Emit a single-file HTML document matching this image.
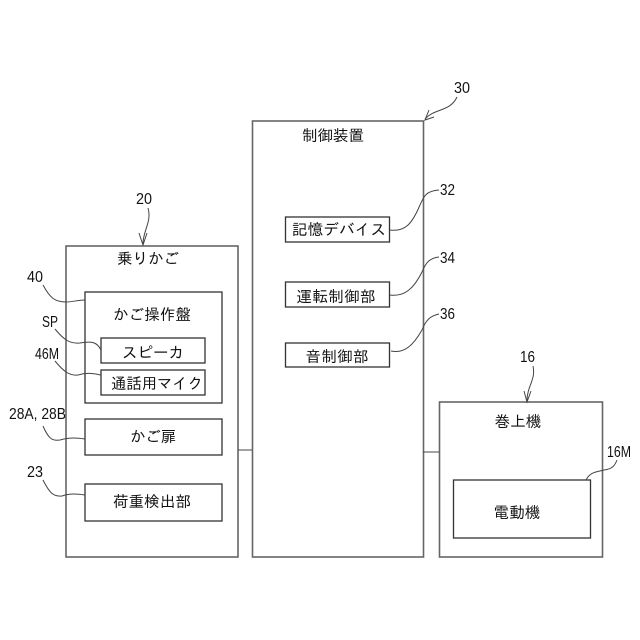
<!DOCTYPE html>
<html lang="ja">
<head>
<meta charset="utf-8">
<style>
html,body{margin:0;padding:0;background:#fff;width:640px;height:640px;overflow:hidden}
svg{display:block}
text{font-family:"Liberation Sans","IPAGothic","Noto Sans CJK JP",sans-serif;fill:#111}
.j{font-size:15.5px;text-anchor:middle}
.n{font-size:15.5px}
rect{fill:#fff;stroke:#333;stroke-width:1.3}
.o{stroke:#666;stroke-width:1.6}
path,line{fill:none;stroke:#444;stroke-width:1}
</style>
</head>
<body>
<svg width="640" height="640" viewBox="0 0 640 640" xmlns="http://www.w3.org/2000/svg">
<rect class="o" x="66" y="246" width="172" height="311"/>
<rect x="85" y="292" width="137" height="111"/>
<rect x="101" y="338" width="104" height="25"/>
<rect x="101" y="370" width="104" height="25"/>
<rect x="85" y="419" width="137" height="36"/>
<rect x="85" y="484" width="137" height="37"/>
<rect class="o" x="252.500" y="121" width="171" height="436"/>
<rect x="285.500" y="217" width="104" height="25"/>
<rect x="285.500" y="282" width="104" height="25"/>
<rect x="285.500" y="343" width="104" height="24"/>
<rect class="o" x="439.500" y="402" width="163" height="155"/>
<rect x="453.500" y="480" width="137" height="58"/>
<line x1="238" y1="450" x2="252" y2="450"/>
<line x1="423" y1="452" x2="439" y2="452"/>

<path d="M148 208 C152 222 143 230 143 244"/>
<path d="M139 233 L143 245 L147 233"/>
<path d="M457 97 C450 112 435 108 425 119"/>
<path d="M434 117 L425 120 L429 110"/>
<path d="M533 366 C536 380 527 386 527 401"/>
<path d="M524 391 L527 402 L531 391"/>

<path d="M43 285 C50 298 55 302 66 302 C72 302 78 300 85 300"/>
<path d="M55 329 C64 340 70 344 80 343 C92 341 97 342 101 350"/>
<path d="M55 361 C64 372 70 376 78 375 C88 372 95 374 101 375"/>
<path d="M43 426 C49 440 53 441 60 440 C70 437 78 438 85 439"/>
<path d="M43 480 C49 492 53 497 62 496 C70 493 78 494 85 495"/>
<path d="M390 230 C405 232 412 224 420 205 C424 196 426 191 439 190"/>
<path d="M390 295 C405 297 414 288 422 272 C426 262 430 258 439 257"/>
<path d="M391 351 C405 354 414 344 422 330 C426 320 430 316 439 314"/>
<path d="M586 480 C590 472 596 472 604 470 C613 469 615 465 617 460"/>

<text class="n" x="136" y="204" textLength="16" lengthAdjust="spacingAndGlyphs">20</text>
<text class="n" x="454" y="93" textLength="16" lengthAdjust="spacingAndGlyphs">30</text>
<text class="n" x="520" y="362" textLength="15" lengthAdjust="spacingAndGlyphs">16</text>
<text class="n" x="27" y="282" textLength="16" lengthAdjust="spacingAndGlyphs">40</text>
<text class="n" x="42" y="327" textLength="16" lengthAdjust="spacingAndGlyphs">SP</text>
<text class="n" x="35" y="359" textLength="24" lengthAdjust="spacingAndGlyphs">46M</text>
<text class="n" x="9" y="419" textLength="57" lengthAdjust="spacingAndGlyphs">28A, 28B</text>
<text class="n" x="27" y="477" textLength="16" lengthAdjust="spacingAndGlyphs">23</text>
<text class="n" x="440" y="195" textLength="15" lengthAdjust="spacingAndGlyphs">32</text>
<text class="n" x="440" y="263" textLength="15" lengthAdjust="spacingAndGlyphs">34</text>
<text class="n" x="440" y="319" textLength="15" lengthAdjust="spacingAndGlyphs">36</text>
<text class="n" x="607" y="457" textLength="24" lengthAdjust="spacingAndGlyphs">16M</text>

<text class="j" x="148" y="264" textLength="62">乗りかご</text>
<text class="j" x="152" y="320" textLength="78">かご操作盤</text>
<text class="j" x="153" y="358" textLength="62">スピーカ</text>
<text class="j" x="157" y="389" textLength="92">通話用マイク</text>
<text class="j" x="153" y="442" textLength="46">かご扉</text>
<text class="j" x="152" y="507" textLength="78">荷重検出部</text>
<text class="j" x="333" y="141" textLength="62">制御装置</text>
<text class="j" x="339" y="235" textLength="94">記憶デバイス</text>
<text class="j" x="336" y="302" textLength="79">運転制御部</text>
<text class="j" x="337" y="362" textLength="63">音制御部</text>
<text class="j" x="518" y="427" textLength="47">巻上機</text>
<text class="j" x="517" y="518" textLength="47">電動機</text>
</svg>
</body>
</html>
